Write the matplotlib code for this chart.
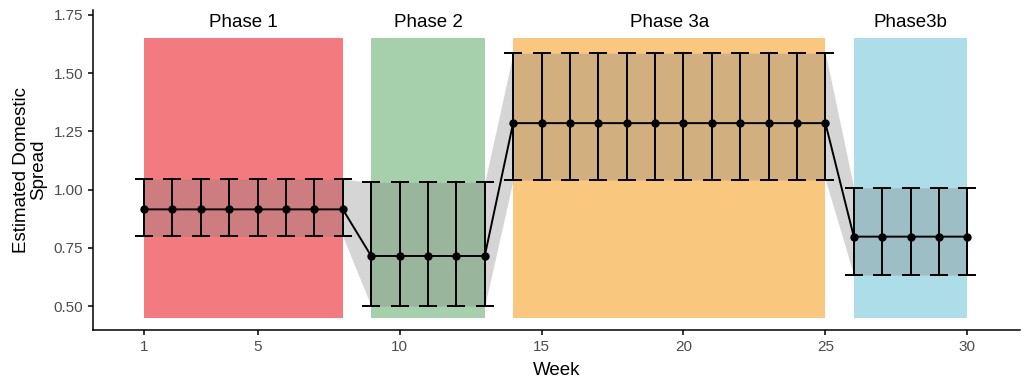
import matplotlib
matplotlib.use("Agg")
import matplotlib.pyplot as plt
import numpy as np

plt.rcParams['font.family'] = ['Liberation Sans', 'DejaVu Sans']

weeks = list(range(1, 31))
estimate = [0.915]*8 + [0.715]*5 + [1.285]*12 + [0.798]*5
lower = [0.799]*8 + [0.500]*5 + [1.041]*12 + [0.633]*5
upper = [1.045]*8 + [1.031]*5 + [1.585]*12 + [1.008]*5

phase_names = ["Phase 1", "Phase 2", "Phase 3a", "Phase3b"]
phase_start = [1, 9, 14, 26]
phase_end = [8, 13, 25, 30]
phase_colors = ["#F37B7F", "#A6D0AB", "#F9C77E", "#ADDDE9"]
rect_bottom, rect_top = 0.45, 1.65

fig = plt.figure(figsize=(10.25, 3.79), dpi=100)
ax = fig.add_axes([0.0907, 0.129, 0.9043, 0.845])

for name, s, e, c in zip(phase_names, phase_start, phase_end, phase_colors):
    ax.fill_between([s, e], rect_bottom, rect_top, color=c, lw=0, zorder=1)
    ax.text((s + e) / 2, 1.717, name, ha='center', va='center', fontsize=13.5, color='black', zorder=5)

ax.fill_between(weeks, lower, upper, color='#7f7f7f', alpha=0.32, lw=0, zorder=2)
ax.plot(weeks, estimate, color='black', lw=1.4, zorder=3)
est = np.array(estimate)
ax.errorbar(weeks, estimate, yerr=[est - np.array(lower), np.array(upper) - est],
            fmt='o', color='black', ms=5, elinewidth=1.4, capsize=6.5, capthick=1.4, zorder=4)

ax.set_xlim(-0.8, 31.85)
ax.set_ylim(0.397, 1.771)
ax.set_xticks([1, 5, 10, 15, 20, 25, 30])
ax.set_yticks([0.50, 0.75, 1.00, 1.25, 1.50, 1.75])
ax.set_yticklabels(["0.50", "0.75", "1.00", "1.25", "1.50", "1.75"])
ax.tick_params(axis='both', labelsize=11, length=3.5, width=1.1, color='black', labelcolor='#4d4d4d')
for sp in ['top', 'right']:
    ax.spines[sp].set_visible(False)
for sp in ['left', 'bottom']:
    ax.spines[sp].set_linewidth(1.1)
ax.set_xlabel("Week", fontsize=13.5, labelpad=6)
ax.set_ylabel("Estimated Domestic\nSpread", fontsize=13.5, labelpad=5, linespacing=0.95)

fig.savefig("out.png", dpi=100)
